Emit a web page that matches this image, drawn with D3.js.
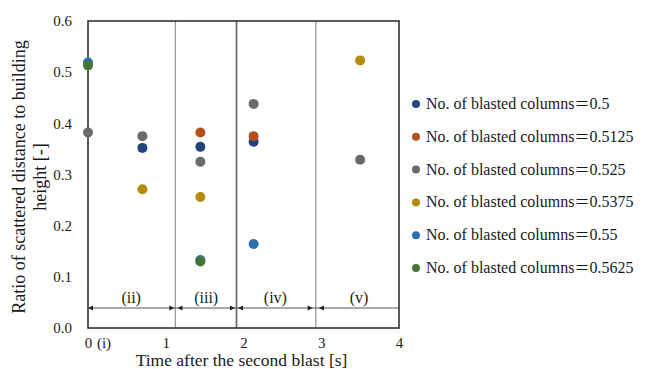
<!DOCTYPE html>
<html>
<head>
<meta charset="utf-8">
<script src="https://cdn.jsdelivr.net/npm/d3@7"></script>
<style>
  body { margin: 0; background: #fff; }
  text { font-family: "Liberation Serif", "Times New Roman", serif; fill: #1a1a1a; }
</style>
</head>
<body>
<div class="main_area"></div>
<script>
// series names and colours
const seriesNames = ["0.5", "0.5125", "0.525", "0.5375", "0.55", "0.5625"];
const seriesColors = ["#22437c", "#b4501b", "#6a6a6a", "#b38c0c", "#2c6fad", "#46752f"];

// [time, ratio]
const s0500 = [[0.70, 0.352], [1.445, 0.354], [2.13, 0.364]];
const s0512 = [[1.445, 0.382], [2.13, 0.375]];
const s0525 = [[0, 0.382], [0.70, 0.375], [1.445, 0.325], [2.13, 0.438], [3.5, 0.329]];
const s0537 = [[0.70, 0.271], [1.445, 0.256], [3.5, 0.523]];
const s0550 = [[0, 0.519], [1.445, 0.133], [2.13, 0.164]];
const s0562 = [[0, 0.513], [1.445, 0.130]];
const seriesData = [s0500, s0512, s0525, s0537, s0550, s0562];

const xTicks = [0, 1, 2, 3, 4];
const yTicks = [0, 0.1, 0.2, 0.3, 0.4, 0.5, 0.6];

// phase boundaries and labels
const phaseLines = [1.124, 1.91, 2.93];
const phaseLabels = ["(ii)", "(iii)", "(iv)", "(v)"];
const phaseSpans = [[0, 1.11], [1.15, 1.89], [1.93, 2.89], [2.97, 4]];
const arrowLevel = 0.039;

const width = 647, height = 369;
const margin = {top: 21, right: 248, bottom: 41, left: 88};

const svg = d3.select(".main_area")
  .append("svg")
  .attr("width", width)
  .attr("height", height);

const x = d3.scaleLinear().domain([0, 4]).range([margin.left, width - margin.right]);
const y = d3.scaleLinear().domain([0, 0.6]).range([height - margin.bottom, margin.top]);

// phase separator lines
svg.append("g")
  .selectAll("line")
  .data(phaseLines)
  .enter().append("line")
    .attr("x1", d => x(d)).attr("x2", d => x(d))
    .attr("y1", y(0.6)).attr("y2", y(0))
    .attr("stroke", (d, i) => i == 1 ? "#6e6e6e" : "#9a9a9a")
    .attr("stroke-width", (d, i) => i == 1 ? 1.8 : 1.3);

// arrow line
svg.append("line")
  .attr("x1", x(0)).attr("x2", x(4))
  .attr("y1", y(arrowLevel)).attr("y2", y(arrowLevel))
  .attr("stroke", "#555").attr("stroke-width", 1);

const heads = [];
phaseSpans.forEach(s => { heads.push([s[0], -1]); heads.push([s[1], 1]); });
svg.append("g")
  .selectAll("path")
  .data(heads.filter(h => h[0] < 4))
  .enter().append("path")
    .attr("d", d => {
      const px = x(d[0]), py = y(arrowLevel), dir = d[1];
      return "M" + px + "," + py + "L" + (px - dir * 5) + "," + (py - 2.5) + "L" + (px - dir * 5) + "," + (py + 2.5) + "Z";
    })
    .attr("fill", "#222");

svg.append("g")
  .selectAll("text")
  .data(phaseLabels)
  .enter().append("text")
    .attr("x", (d, i) => x((phaseSpans[i][0] + phaseSpans[i][1]) / 2))
    .attr("y", 303)
    .attr("text-anchor", "middle")
    .style("font-size", "16px")
    .text(d => d);

// plot frame
svg.append("rect")
  .attr("x", x(0)).attr("y", y(0.6))
  .attr("width", x(4) - x(0)).attr("height", y(0) - y(0.6))
  .attr("fill", "none")
  .attr("stroke", "#333").attr("stroke-width", 1.6);

// axes (labels only)
const xAxis = svg.append("g")
  .attr("transform", "translate(0," + y(0) + ")")
  .call(d3.axisBottom(x).tickValues(xTicks).tickSize(0).tickPadding(9).tickFormat(d3.format("d")));
xAxis.select(".domain").remove();
xAxis.selectAll("text").style("font-size", "15px").style("font-family", "Liberation Serif").attr("fill", "#1a1a1a");

svg.append("text")
  .attr("x", x(0) + 16).attr("y", 348)
  .attr("text-anchor", "middle")
  .style("font-size", "15px")
  .text("(i)");

const yAxis = svg.append("g")
  .attr("transform", "translate(" + x(0) + ",0)")
  .call(d3.axisLeft(y).tickValues(yTicks).tickSize(0).tickPadding(16).tickFormat(d3.format(".1f")));
yAxis.select(".domain").remove();
yAxis.selectAll("text").style("font-size", "15px").style("font-family", "Liberation Serif").attr("fill", "#1a1a1a");

// axis titles
svg.append("text")
  .attr("x", (x(0) + x(4)) / 2 - 2).attr("y", 366)
  .attr("text-anchor", "middle")
  .style("font-size", "17.5px")
  .text("Time after the second blast [s]");

const yTitle = svg.append("text")
  .attr("transform", "translate(25," + 177 + ") rotate(-90)")
  .attr("text-anchor", "middle")
  .style("font-size", "18px");
yTitle.append("tspan").attr("x", 0).attr("dy", 0).text("Ratio of scattered distance to building");
yTitle.append("tspan").attr("x", 0).attr("dy", 21).text("height [-]");

// points
seriesData.forEach(function(pts, i) {
  svg.append("g")
    .selectAll("circle")
    .data(pts)
    .enter().append("circle")
      .attr("cx", d => x(d[0]))
      .attr("cy", d => y(d[1]))
      .attr("r", 5)
      .attr("fill", seriesColors[i]);
});

// legend
const ly = d3.scaleLinear().domain([0, 5]).range([104, 268]);
const legend = svg.append("g")
  .selectAll("g")
  .data(seriesNames)
  .enter().append("g")
    .attr("transform", (d, i) => "translate(416," + ly(i) + ")");
legend.append("circle")
  .attr("r", 4)
  .attr("fill", (d, i) => seriesColors[i]);
const lt = legend.append("text")
  .attr("x", 10).attr("y", 5)
  .style("font-size", "16px");
lt.append("tspan").text("No. of blasted columns");
lt.append("tspan").style("font-family", "'Noto Sans CJK JP'").style("font-size", "15px").text("\uFF1D");
lt.append("tspan").text(d => d);
</script>
</body>
</html>
